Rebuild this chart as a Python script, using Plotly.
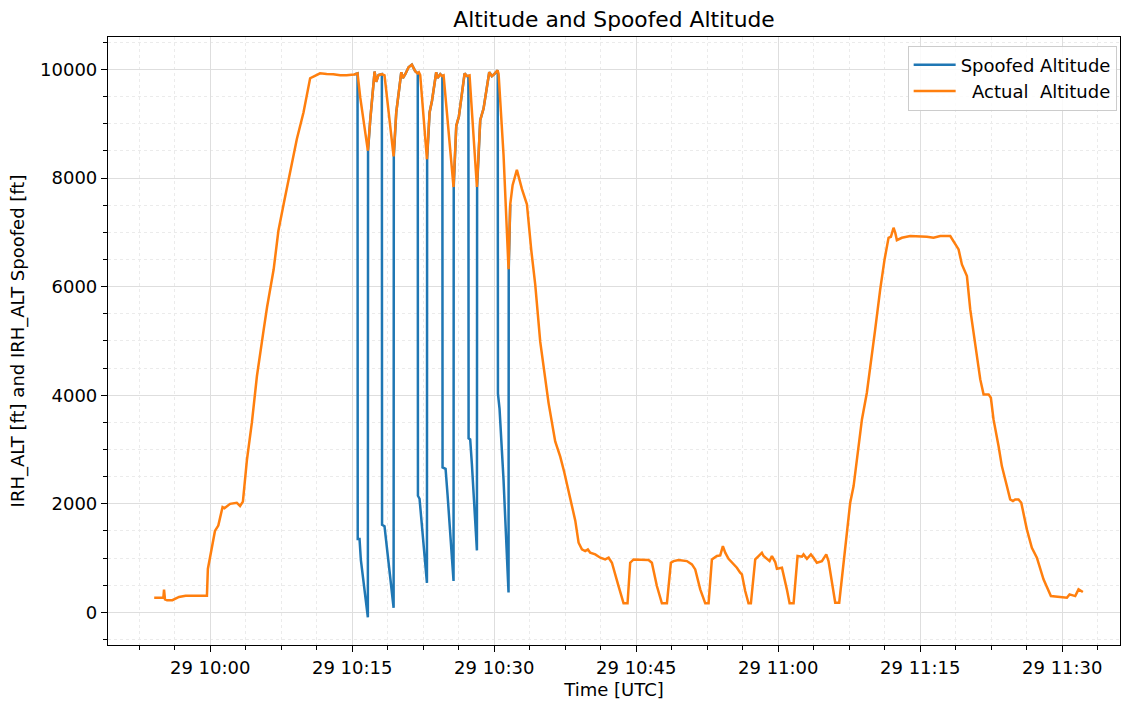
import pandas as pd
import plotly.graph_objects as go

# ---- data (time in minutes relative to 29 10:00 UTC, altitude in ft) ----
base_time = "2023-08-29 10:00:00"

actual_min = [
    -5.92, -4.95, -4.88, -4.78, -4.55, -4.00, -3.30, -2.60, -1.50, -0.35,
    -0.25, 0.50, 0.85, 1.30, 1.50, 2.10, 2.80, 3.15, 3.45, 3.87,
    4.40, 4.93, 5.63, 6.00, 6.70, 7.20, 7.75, 8.45, 9.15, 9.85,
    10.55, 10.90, 11.60, 12.30, 13.00, 13.73, 14.40, 15.20, 15.56,
    15.84, 16.65, 16.90, 17.36, 17.53, 17.78, 18.13, 18.41, 19.37, 19.65,
    20.18, 20.35, 20.60, 20.95, 21.30, 21.65, 21.90, 22.04, 22.18, 22.89,
    23.17, 23.42, 23.87, 24.01, 24.30, 24.47, 24.65, 25.70, 25.99, 26.27,
    26.87, 27.11, 27.39, 28.17, 28.52, 28.87, 29.47, 29.75, 30.00, 30.35,
    30.46, 30.98, 31.51, 31.69, 31.94, 32.39, 32.92, 33.45, 33.91, 34.33,
    34.86, 35.74, 36.44, 36.97, 37.39, 38.03, 38.56, 38.91, 39.26, 39.61,
    39.89, 40.14, 40.67, 41.20, 41.72, 42.08, 42.43, 43.13, 43.66, 44.08,
    44.36, 44.72, 45.24, 45.77, 46.30, 46.65, 47.18, 47.71, 48.24, 48.66,
    48.94, 49.47, 50.35, 50.88, 51.23, 51.76, 52.29, 52.64, 52.99, 53.52,
    53.87, 54.15, 54.40, 54.75, 55.28, 55.63, 55.98, 56.16, 56.51, 56.86,
    57.11, 57.57, 57.92, 58.27, 58.45, 58.80, 59.08, 59.33, 59.68, 59.86,
    60.39, 60.91, 61.20, 61.62, 62.04, 62.50, 62.67, 63.03, 63.45, 63.73,
    64.08, 64.61, 65.07, 65.31, 65.84, 66.02, 66.44, 66.90, 67.25, 67.60,
    67.96, 68.48, 68.84, 69.36, 69.89, 70.24, 70.77, 71.23, 71.65, 71.90,
    72.18, 72.36, 72.53, 73.06, 73.94, 75.00, 75.70, 76.40, 77.11, 78.17,
    78.70, 79.05, 79.40, 79.93, 80.28, 80.81, 81.34, 81.69, 82.22, 82.46,
    82.74, 83.27, 83.62, 84.15, 84.50, 84.79, 85.03, 85.38, 85.67, 86.26,
    86.79, 87.32, 88.02, 88.80, 89.79, 90.49, 90.77, 91.37, 91.72, 92.18,
]
actual_alt = [
    270, 270, 420, 240, 222, 225, 285, 305, 305, 305,
    800, 1500, 1600, 1940, 1920, 2000, 2020, 1960, 2040, 2800,
    3500, 4350, 5190, 5620, 6320, 7030, 7520, 8150, 8720, 9210,
    9840, 9870, 9930, 9920, 9915, 9894, 9895, 9910, 9929,
    9492, 8506, 9069, 9964, 9774, 9901, 9915, 9894, 8400, 9210,
    9950, 9845, 9915, 10042, 10091, 9971, 9929, 9950, 9900, 8351,
    9210, 9422, 9950, 9845, 9915, 9880, 9894, 7836, 8964, 9140,
    9929, 9880, 9894, 7836, 9069, 9281, 9950, 9880, 9915, 9985,
    9920, 8435, 6321, 7519, 7871, 8153, 7801, 7519, 6673, 6039,
    4982, 3855, 3150, 2868, 2586, 2093, 1690, 1283, 1160, 1130,
    1160, 1099, 1068, 1007, 976, 1007, 915, 485, 166, 166,
    915, 976, 976, 964, 964, 915, 485, 166, 166, 915,
    945, 964, 945, 884, 792, 424, 166, 166, 976, 1038,
    1050, 1222, 1099, 988, 884, 823, 731, 700, 393, 166,
    166, 976, 1038, 1099, 1038, 988, 945, 1038, 927, 804,
    823, 424, 166, 166, 1038, 1025, 1068, 988, 1068, 1007,
    915, 945, 1068, 945, 424, 178, 178, 915, 1467, 2020,
    2327, 3125, 3555, 4046, 4722, 5213, 5950, 6502, 6901, 6920,
    7086, 6993, 6858, 6901, 6932, 6932, 6920, 6901, 6932, 6932,
    6779, 6686, 6410, 6195, 5581, 4906, 4292, 4016, 4016, 3954,
    3555, 3064, 2695, 2327, 2081, 2050, 2081, 2081, 2020, 1529,
    1191, 1007, 608, 301, 289, 270, 332, 300, 424, 375,
]

spoof_min = [
    15.20, 15.56, 15.58, 15.77, 15.91, 16.65, 16.67, 16.90, 17.36, 17.53,
    17.78, 18.13, 18.15, 18.41, 19.37, 19.39, 19.65, 20.18, 20.35, 20.60,
    20.95, 21.30, 21.65, 21.92, 21.94, 22.11, 22.89, 22.91, 23.17, 23.42,
    23.87, 24.01, 24.30, 24.52, 24.54, 24.86, 25.07, 25.70, 25.72, 25.99,
    26.27, 26.87, 27.11, 27.27, 27.29, 27.46, 27.64, 28.17, 28.19, 28.52,
    28.87, 29.47, 29.75, 30.00, 30.37, 30.39, 30.56, 30.98, 31.51, 31.53,
    31.69,
]
spoof_alt = [
    9910, 9929, 1353, 1353, 965, -92, 8506, 9069, 9964, 9774,
    9901, 9915, 1614, 1586, 85, 8400, 9210, 9950, 9845, 9915,
    10042, 10091, 9971, 9929, 2149, 2093, 543, 8351, 9210, 9422,
    9950, 9845, 9915, 9880, 2671, 2643, 2163, 578, 7836, 8964,
    9140, 9929, 9880, 9880, 3206, 3185, 2727, 1142, 7836, 9069,
    9281, 9950, 9880, 9915, 9985, 4031, 3749, 2445, 366, 6321,
    7519,
]

y_ticks = [0, 2000, 4000, 6000, 8000, 10000]

t0 = pd.Timestamp(base_time)
actual_time = t0 + pd.to_timedelta(actual_min, unit="min")
spoof_time = t0 + pd.to_timedelta(spoof_min, unit="min")

FONT = "DejaVu Sans, Verdana, sans-serif"

fig = go.Figure()
fig.add_trace(go.Scatter(
    x=spoof_time, y=spoof_alt, mode="lines", name="Spoofed Altitude",
    line=dict(color="#1f77b4", width=2.5), legendgroup="a",
))
fig.add_trace(go.Scatter(
    x=actual_time, y=actual_alt, mode="lines",
    name="\u00a0\u00a0Actual\u00a0\u00a0Altitude",
    line=dict(color="#ff7f0e", width=2.5), legendgroup="b",
))

x_range = [t0 + pd.Timedelta(minutes=-10.8), t0 + pd.Timedelta(minutes=96.1)]

fig.update_layout(
    width=1121, height=701,
    margin=dict(l=108, r=1, t=37, b=56),
    paper_bgcolor="white", plot_bgcolor="white",
    font=dict(family=FONT, size=18, color="black"),
    title=dict(text="Altitude and Spoofed Altitude", x=0.5, xref="paper",
               xanchor="center", y=0.972, yanchor="middle",
               font=dict(size=21.8, family=FONT, color="black")),
    showlegend=True,
    legend=dict(x=0.9967, y=0.986, xanchor="right", yanchor="top",
                bgcolor="rgba(255,255,255,0.85)", bordercolor="#cccccc",
                borderwidth=1, font=dict(size=18, family=FONT),
                tracegroupgap=0, itemwidth=42),
)

fig.update_xaxes(
    type="date", range=x_range,
    tick0=base_time, dtick=900000, tickformat="%d %H:%M",
    ticks="outside", ticklen=6, tickwidth=1.2, tickcolor="black",
    showline=True, linecolor="black", linewidth=1.2, mirror=True,
    showgrid=True, gridcolor="#dedede", gridwidth=1,
    zeroline=False,
    minor=dict(dtick=225000, ticks="outside", ticklen=3.5, tickcolor="black",
               showgrid=True, gridcolor="#ebebeb", griddash="dot", gridwidth=1),
    title=dict(text="Time [UTC]", standoff=6, font=dict(size=18, family=FONT)),
    tickfont=dict(size=18, family=FONT),
)
fig.update_yaxes(
    range=[-601, 10600],
    tickmode="array", tickvals=y_ticks, tickformat="d",
    ticks="outside", ticklen=6, tickwidth=1.2, tickcolor="black",
    showline=True, linecolor="black", linewidth=1.2, mirror=True,
    showgrid=True, gridcolor="#dedede", gridwidth=1,
    zeroline=False,
    minor=dict(dtick=500, tick0=0, ticks="outside", ticklen=3.5, tickcolor="black",
               showgrid=True, gridcolor="#ebebeb", griddash="dot", gridwidth=1),
    title=dict(text="IRH_ALT [ft] and IRH_ALT Spoofed [ft]", standoff=10,
               font=dict(size=18, family=FONT)),
    tickfont=dict(size=18, family=FONT),
)

fig.write_html("out.html")
